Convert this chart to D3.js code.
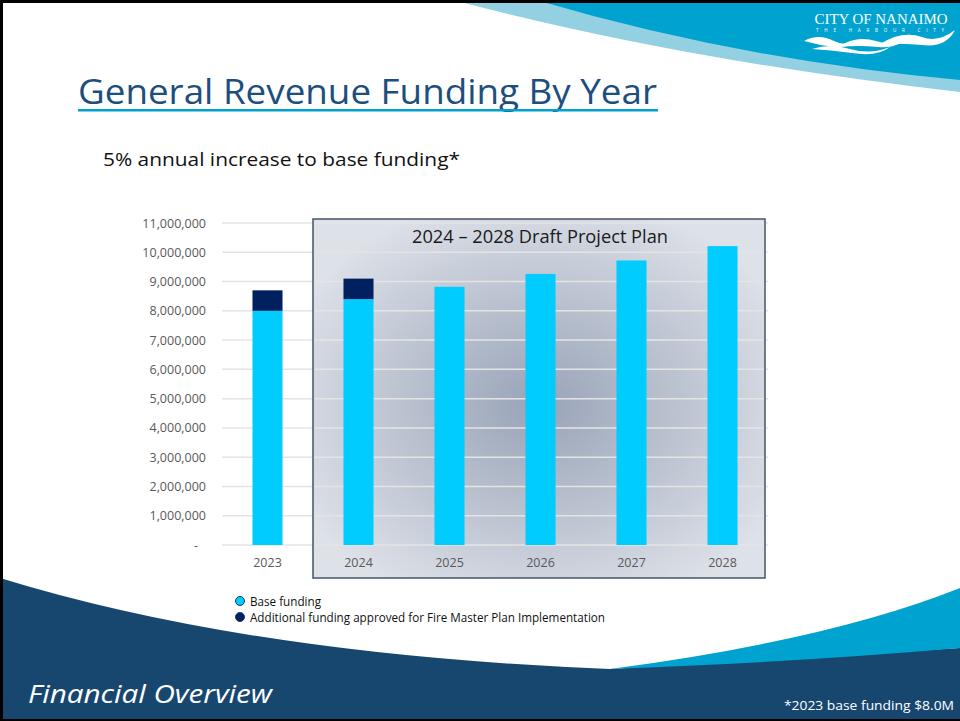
<!DOCTYPE html>
<meta charset="utf-8">
<style>
    body { margin: 0; background: #fff; }
    svg { display: block; font-family: "Open Sans", sans-serif; }
</style>
<script src="https://d3js.org/d3.v7.min.js"></script>
<div id="slide"></div>
<script>
    // chart values
    var years = ["2023", "2024", "2025", "2026", "2027", "2028"];
    var baseFunding = [8000000, 8400000, 8820000, 9260000, 9720000, 10210000];
    var fireFunding = [700000, 700000, 0, 0, 0, 0];
    var yTicks = [0, 1000000, 2000000, 3000000, 4000000, 5000000, 6000000,
                  7000000, 8000000, 9000000, 10000000, 11000000];
    var planYears = ["2024", "2028"];
    var seriesNames = ["Base funding", "Additional funding approved for Fire Master Plan Implementation"];
    var seriesColors = ["#00ccff", "#002060"];

    var W = 960, H = 721;

    var svg = d3.select("#slide").append("svg")
        .attr("width", W)
        .attr("height", H);

    var defs = svg.append("defs");
    var grad = defs.append("radialGradient")
        .attr("id", "panelFill")
        .attr("cx", "50%").attr("cy", "52%").attr("r", "60%");
    grad.append("stop").attr("offset", "0%").attr("stop-color", "#98a3b7");
    grad.append("stop").attr("offset", "100%").attr("stop-color", "#dde1e8");

    // ---- slide decoration ----
    // top right swoosh
    svg.append("path")
        .attr("d", "M453,0 Q680,60 960,92 L960,0 Z")
        .attr("fill", "#92d0e2");
    svg.append("path")
        .attr("d", "M536,0 Q740,60 960,80 L960,0 Z")
        .attr("fill", "#00a3cf");

    // bottom band
    svg.append("path")
        .attr("d", "M0,578 Q250,655 610,669 L960,648 L960,721 L0,721 Z")
        .attr("fill", "#17476f");
    svg.append("path")
        .attr("d", "M610,669 Q830,640 960,588 L960,648 Q800,662 610,669 Z")
        .attr("fill", "#00a3cf");

    // logo
    var logo = svg.append("g").attr("fill", "#fff");
    logo.append("text")
        .attr("x", 881).attr("y", 24)
        .attr("text-anchor", "middle")
        .attr("font-family", "'Liberation Serif', serif")
        .attr("font-size", 14.5)
        .attr("textLength", 133)
        .attr("lengthAdjust", "spacingAndGlyphs")
        .text("CITY OF NANAIMO");
    logo.append("text")
        .attr("x", 881).attr("y", 32)
        .attr("text-anchor", "middle")
        .attr("font-size", 4.5)
        .attr("textLength", 130)
        .attr("letter-spacing", 2)
        .text("THE     HARBOUR     CITY");
    logo.append("path")
        .attr("d", "M804,41 Q818,33 834,41 Q848,48 862,38 Q852,48 834,47 Q818,45 804,41 Z");
    logo.append("path")
        .attr("d", "M838,47 Q856,35 876,41 Q894,47 910,34 Q900,49 878,47 Q858,45 838,47 Z");
    logo.append("path")
        .attr("d", "M880,44 Q902,30 922,37 Q938,43 955,30 Q946,48 922,45 Q900,43 880,44 Z");
    logo.append("path")
        .attr("d", "M812,49 Q830,43 850,49 Q870,55 890,47 Q878,57 852,53 Q830,50 812,49 Z");

    // slide frame
    svg.append("rect").attr("x", 0).attr("y", 0).attr("width", W).attr("height", 3).attr("fill", "#000");
    svg.append("rect").attr("x", 0).attr("y", 0).attr("width", 3).attr("height", H).attr("fill", "#000");
    svg.append("rect").attr("x", 0).attr("y", H - 2).attr("width", W).attr("height", 2).attr("fill", "#000");

    // title
    svg.append("text")
        .attr("x", 78).attr("y", 104)
        .attr("font-size", 35)
        .attr("fill", "#1c4e7e")
        .attr("textLength", 579)
        .attr("lengthAdjust", "spacingAndGlyphs")
        .text("General Revenue Funding By Year");
    svg.append("rect")
        .attr("x", 78).attr("y", 109)
        .attr("width", 580).attr("height", 2.5)
        .attr("fill", "#00a0d0");

    svg.append("text")
        .attr("x", 103).attr("y", 166)
        .attr("font-size", 18.5)
        .attr("fill", "#111")
        .attr("textLength", 357)
        .attr("lengthAdjust", "spacingAndGlyphs")
        .text("5% annual increase to base funding*");

    // ---- chart ----
    var x = d3.scaleBand()
        .domain(years)
        .range([222, 768])
        .paddingInner(0.67)
        .paddingOuter(0.335);

    var y = d3.scaleLinear()
        .domain([0, 11000000])
        .range([545, 223]);

    var gap = (x.step() - x.bandwidth()) / 2;

    // draft plan panel
    var px0 = x(planYears[0]) - gap,
        px1 = x(planYears[1]) + x.bandwidth() + gap - 3;
    svg.append("rect")
        .attr("x", px0).attr("y", 219)
        .attr("width", px1 - px0).attr("height", 359)
        .attr("fill", "url(#panelFill)");

    // gridlines
    svg.append("g")
        .selectAll("line")
        .data(yTicks)
        .join("line")
        .attr("x1", 222).attr("x2", 768)
        .attr("y1", function (d) { return y(d); })
        .attr("y2", function (d) { return y(d); })
        .attr("stroke", "#e4e4e4")
        .attr("stroke-width", 1.5);

    // y axis labels
    var yAxis = svg.append("g")
        .attr("transform", "translate(222,0)")
        .call(d3.axisLeft(y)
            .tickValues(yTicks)
            .tickSize(0)
            .tickPadding(16)
            .tickFormat(function (d) { return d === 0 ? "-" : d3.format(",")(d); }));
    yAxis.select(".domain").remove();
    yAxis.selectAll("text")
        .attr("font-family", "'Open Sans', sans-serif")
        .attr("font-size", 12.5)
        .attr("fill", "#595959")
        .attr("dx", function (d) { return d === 0 ? -8 : 0; });

    // x axis labels
    var xAxis = svg.append("g")
        .attr("transform", "translate(0,545)")
        .call(d3.axisBottom(x).tickSize(0).tickPadding(13.5));
    xAxis.select(".domain").remove();
    xAxis.selectAll("text")
        .attr("font-family", "'Open Sans', sans-serif")
        .attr("font-size", 12.5)
        .attr("fill", "#595959");

    // stacked bars
    var rows = years.map(function (yr, i) {
        return { year: yr, base: baseFunding[i], fire: fireFunding[i] };
    });
    var stack = d3.stack().keys(["base", "fire"])(rows);

    svg.append("g")
        .selectAll("g")
        .data(stack)
        .join("g")
        .attr("fill", function (d, i) { return seriesColors[i]; })
        .selectAll("rect")
        .data(function (d) { return d.filter(function (p) { return p[1] > p[0]; }); })
        .join("rect")
        .attr("x", function (d) { return x(d.data.year); })
        .attr("y", function (d) { return y(d[1]); })
        .attr("width", x.bandwidth())
        .attr("height", function (d) { return y(d[0]) - y(d[1]); });

    // panel border + title on top
    svg.append("rect")
        .attr("x", px0).attr("y", 219)
        .attr("width", px1 - px0).attr("height", 359)
        .attr("fill", "none")
        .attr("stroke", "#44546a")
        .attr("stroke-width", 1.5);

    svg.append("text")
        .attr("x", (px0 + px1) / 2 + 1).attr("y", 243)
        .attr("text-anchor", "middle")
        .attr("font-size", 17.5)
        .attr("fill", "#1a1a1a")
        .attr("textLength", 256)
        .attr("lengthAdjust", "spacingAndGlyphs")
        .text(planYears[0] + " \u2013 " + planYears[1] + " Draft Project Plan");

    // legend
    var legend = svg.append("g")
        .selectAll("g")
        .data(seriesNames)
        .join("g")
        .attr("transform", function (d, i) { return "translate(240," + (601 + i * 16) + ")"; });
    legend.append("circle")
        .attr("r", 4.5)
        .attr("fill", function (d, i) { return seriesColors[i]; })
        .attr("stroke", "#1f3864")
        .attr("stroke-width", 1);
    legend.append("text")
        .attr("x", 10).attr("y", 4.5)
        .attr("font-size", 12)
        .attr("fill", "#111")
        .attr("textLength", function (d, i) { return i === 0 ? 71 : 355; })
        .attr("lengthAdjust", "spacingAndGlyphs")
        .text(function (d) { return d; });

    // footer
    svg.append("text")
        .attr("x", 28).attr("y", 703)
        .attr("font-size", 25)
        .attr("font-style", "italic")
        .attr("fill", "#fff")
        .attr("textLength", 244)
        .attr("lengthAdjust", "spacingAndGlyphs")
        .text("Financial Overview");
    svg.append("text")
        .attr("x", 954).attr("y", 710)
        .attr("text-anchor", "end")
        .attr("font-size", 13)
        .attr("fill", "#fff")
        .attr("textLength", 170)
        .attr("lengthAdjust", "spacingAndGlyphs")
        .text("*2023 base funding $8.0M");
</script>
